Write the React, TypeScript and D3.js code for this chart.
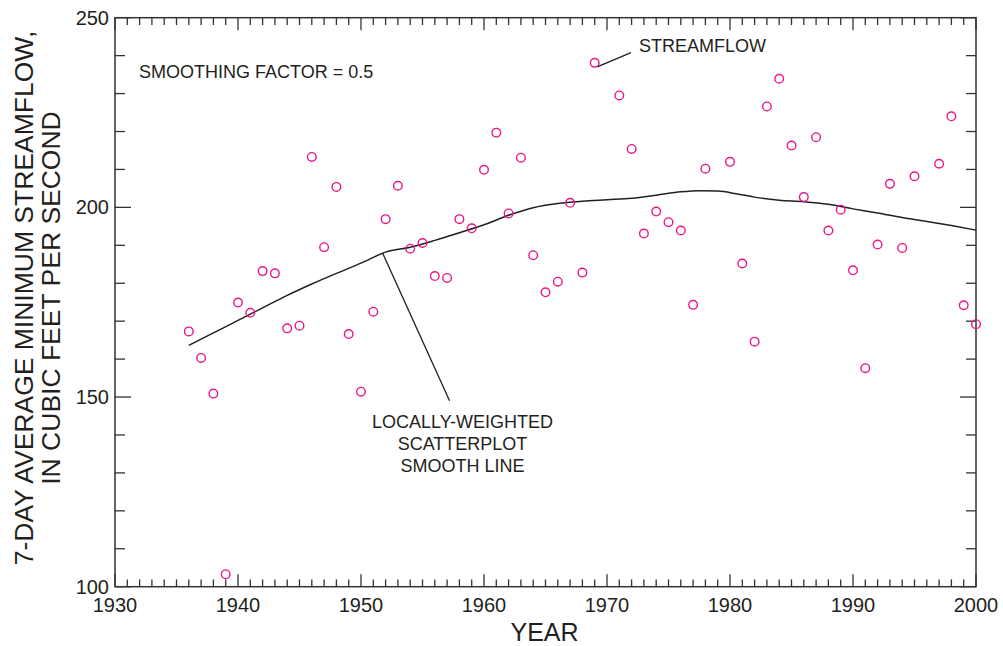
import React from "react";
import * as d3 from "d3";

const years: number[] = [
  1936, 1937, 1938, 1939, 1940, 1941, 1942, 1943, 1944, 1945, 1946, 1947, 1948, 1949, 1950,
  1951, 1952, 1953, 1954, 1955, 1956, 1957, 1958, 1959, 1960, 1961, 1962, 1963, 1964, 1965,
  1966, 1967, 1968, 1969, 1971, 1972, 1973, 1974, 1975, 1976, 1977, 1978, 1980, 1981, 1982,
  1983, 1984, 1985, 1986, 1987, 1988, 1989, 1990, 1991, 1992, 1993, 1994, 1995, 1997, 1998,
  1999, 2000,
];
const flows: number[] = [
  167.3, 160.3, 150.9, 103.3, 174.9, 172.2, 183.2, 182.6, 168.1, 168.8, 213.3, 189.5, 205.4, 166.6, 151.4,
  172.5, 196.9, 205.7, 189.1, 190.6, 181.9, 181.4, 196.9, 194.5, 209.9, 219.7, 198.4, 213.1, 187.4, 177.6,
  180.4, 201.2, 182.8, 238.1, 229.5, 215.4, 193.1, 198.9, 196.1, 193.9, 174.3, 210.2, 212.0, 185.2, 164.6,
  226.6, 233.9, 216.3, 202.7, 218.5, 193.9, 199.4, 183.4, 157.6, 190.2, 206.2, 189.3, 208.2, 211.5, 224.0,
  174.2, 169.2,
];

const smoothYears: number[] = [
  1936, 1938, 1940, 1942, 1944, 1946, 1948, 1950, 1952, 1954, 1956, 1958, 1960, 1962, 1964, 1966,
  1968, 1970, 1972, 1974, 1976, 1977.5, 1979, 1980.5, 1982, 1984, 1986, 1988, 1990, 1992, 1994, 1996, 1998, 2000,
];
const smoothFlows: number[] = [
  163.6, 166.9, 170.2, 173.5, 176.8, 179.8, 182.6, 185.3, 188.2, 189.5, 191.3, 193.3, 195.4, 197.9, 199.9, 201.0,
  201.6, 202.0, 202.4, 203.2, 204.1, 204.4, 204.3, 203.6, 202.7, 201.9, 201.5, 200.8, 199.6, 198.5, 197.3, 196.3, 195.2, 194.0,
];

const xMajorTicks: number[] = [1930, 1940, 1950, 1960, 1970, 1980, 1990, 2000];
const yMajorTicks: number[] = [100, 150, 200, 250];

const W = 1003;
const H = 646;
const L = 115, R = 976, T = 17.7, B = 586.7;
const INK = "#231f20";
const MAG = "#e8178a";
const FONT = "'Liberation Sans', Arial, Helvetica, sans-serif";

export default function App() {
  const x = d3.scaleLinear().domain([1930, 2000]).range([L, R]);
  const y = d3.scaleLinear().domain([100, 250]).range([B, T]);
  const xMinor = d3.range(1930, 2001, 1);
  const yMinor = d3.range(100, 251, 10);

  const line = d3
    .line<number>()
    .x((_, i) => x(smoothYears[i]))
    .y((d) => y(d))
    .curve(d3.curveMonotoneX);

  const lead1Start = [1951.75, 188.0];
  const lead1End = [1957.2, 149.0];
  const lead2Start = [1969.25, 237.1];
  const lead2End = [1971.95, 240.8];

  return (
    <svg width={W} height={H} style={{ position: "absolute", left: 0, top: 0, background: "#fff" }} fontFamily={FONT}>
      {/* frame */}
      <rect x={L} y={T} width={R - L} height={B - T} fill="none" stroke="#333" strokeWidth={1.5} />
      {/* x ticks */}
      {xMinor.map((v) => {
        const major = v % 10 === 0;
        const len = major ? 12.5 : 7.3;
        return (
          <g key={"xt" + v} stroke="#333" strokeWidth={1.3}>
            <line x1={x(v)} x2={x(v)} y1={B} y2={B - len} />
            <line x1={x(v)} x2={x(v)} y1={T} y2={T + len} />
          </g>
        );
      })}
      {/* y ticks */}
      {yMinor.map((v) => {
        const major = v % 50 === 0;
        const len = major ? 16 : 10;
        return (
          <g key={"yt" + v} stroke="#333" strokeWidth={1.3}>
            <line x1={L} x2={L + len} y1={y(v)} y2={y(v)} />
            <line x1={R} x2={R - len} y1={y(v)} y2={y(v)} />
          </g>
        );
      })}
      {/* tick labels */}
      {xMajorTicks.map((v) => (
        <text key={"xl" + v} x={x(v)} y={B + 25} textAnchor="middle" fontSize={20} fill={INK}>
          {v}
        </text>
      ))}
      {yMajorTicks.map((v) => (
        <text key={"yl" + v} x={L - 6} y={y(v) + 7} textAnchor="end" fontSize={20} fill={INK}>
          {v}
        </text>
      ))}
      {/* axis titles */}
      <text x={(L + R) / 2 - 1} y={640.5} textAnchor="middle" fontSize={25} fill={INK}>
        YEAR
      </text>
      <g transform="translate(0,298) rotate(-90)">
        <text x={0} y={33} textAnchor="middle" fontSize={26.5} fill={INK}>
          7-DAY AVERAGE MINIMUM STREAMFLOW,
        </text>
        <text x={0} y={60} textAnchor="middle" fontSize={26.5} fill={INK}>
          IN CUBIC FEET PER SECOND
        </text>
      </g>
      {/* smooth line */}
      <path d={line(smoothFlows) || ""} fill="none" stroke={INK} strokeWidth={1.5} />
      {/* points */}
      {years.map((yr, i) => (
        <circle key={"p" + yr} cx={x(yr)} cy={y(flows[i])} r={4.3} fill="none" stroke={MAG} strokeWidth={1.4} />
      ))}
      {/* annotations */}
      <text x={139} y={77.7} fontSize={18} fill={INK}>
        SMOOTHING FACTOR = 0.5
      </text>
      <line x1={x(lead2Start[0])} y1={y(lead2Start[1])} x2={x(lead2End[0])} y2={y(lead2End[1])} stroke={INK} strokeWidth={1.3} />
      <text x={639} y={51.7} fontSize={18} fill={INK}>
        STREAMFLOW
      </text>
      <line x1={x(lead1Start[0])} y1={y(lead1Start[1])} x2={x(lead1End[0])} y2={y(lead1End[1])} stroke={INK} strokeWidth={1.3} />
      <g fontSize={18} fill={INK} textAnchor="middle">
        <text x={462.5} y={428}>LOCALLY-WEIGHTED</text>
        <text x={462.5} y={449.5}>SCATTERPLOT</text>
        <text x={462.5} y={471.5}>SMOOTH LINE</text>
      </g>
    </svg>
  );
}
